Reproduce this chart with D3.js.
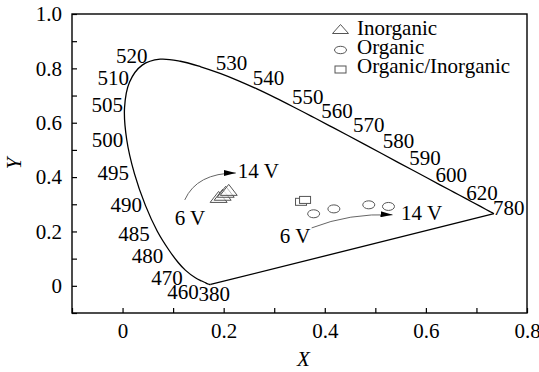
<!DOCTYPE html>
<html>
<head>
<meta charset="utf-8">
<script src="https://cdn.jsdelivr.net/npm/d3@7/dist/d3.min.js"></script>
<style>
  html, body { margin: 0; padding: 0; background: #fff; }
  svg { display: block; font-family: "Liberation Serif", "Times New Roman", serif; }
  svg text { font-family: "Liberation Serif", "Times New Roman", serif; }
</style>
</head>
<body>
<svg id="chart" width="539" height="372"></svg>
<script>
// CIE 1931 spectral locus (wavelength nm, x, y)
const locusWavelengths = [380,390,400,410,420,430,440,450,460,470,475,480,485,490,495,500,505,510,515,520,525,530,535,540,545,550,555,560,565,570,575,580,585,590,595,600,605,610,620,630,640,650,660,680,780];
const locusX = [0.1741,0.1738,0.1733,0.1726,0.1714,0.1689,0.1644,0.1566,0.1440,0.1241,0.1096,0.0913,0.0687,0.0454,0.0235,0.0082,0.0039,0.0139,0.0389,0.0743,0.1142,0.1547,0.1929,0.2296,0.2658,0.3016,0.3373,0.3731,0.4087,0.4441,0.4788,0.5125,0.5448,0.5752,0.6029,0.6270,0.6482,0.6658,0.6915,0.7079,0.7190,0.7260,0.7300,0.7334,0.7347];
const locusY = [0.0050,0.0049,0.0048,0.0048,0.0051,0.0069,0.0109,0.0177,0.0297,0.0578,0.0868,0.1327,0.2007,0.2950,0.4127,0.5384,0.6548,0.7502,0.8120,0.8338,0.8262,0.8059,0.7816,0.7543,0.7243,0.6923,0.6589,0.6245,0.5896,0.5547,0.5202,0.4866,0.4544,0.4242,0.3965,0.3725,0.3514,0.3340,0.3083,0.2920,0.2809,0.2740,0.2700,0.2666,0.2653];

// Labelled wavelengths
const labelWavelengths = [520,510,505,500,495,490,485,480,470,460,380,530,540,550,560,570,580,590,600,620,780];
// label offsets from locus point (px): [dx, dy] (text start, baseline)
const labelOffsets = [[-44,4],[-32,3],[-33,4],[-35,8],[-37,6],[-35,6],[-39,10],[-37,13],[-34,15],[-28,21],[-12,17],[15,3],[14,4],[17,6],[10,2],[6,-3],[1,-6],[-4,-6],[-4,-3],[-6,-2],[-1,1]];

// Data series
const inorganicX = [0.190, 0.198, 0.204, 0.210];
const inorganicY = [0.327, 0.335, 0.346, 0.353];
const organicX = [0.378, 0.418, 0.487, 0.526];
const organicY = [0.265, 0.283, 0.298, 0.292];
const hybridX = [0.353, 0.361];
const hybridY = [0.309, 0.316];

// Axis ticks
const xTickValues = [-0.1,0,0.1,0.2,0.3,0.4,0.5,0.6,0.7,0.8];
const xTickLabels = [0,0.2,0.4,0.6,0.8];
const yTickValues = [-0.1,0,0.1,0.2,0.3,0.4,0.5,0.6,0.7,0.8,0.9,1.0];
const yTickLabels = [0,0.2,0.4,0.6,0.8,1.0];

// Legend
const legendNames = ["Inorganic","Organic","Organic/Inorganic"];

// Voltage arrows (data coordinates): start, control, end
const arrowStarts = [[0.123,0.316],[0.374,0.213]];
const arrowControls = [[0.147,0.415],[0.449,0.268]];
const arrowEnds = [[0.224,0.415],[0.534,0.261]];
const voltageTexts = ["6 V","14 V","6 V","14 V"];
const voltageX = [0.103,0.228,0.311,0.551];
const voltageY = [0.224,0.397,0.158,0.243];

const W = 539, H = 372;
const margin = {left: 72, right: 12, top: 14, bottom: 59};
const svg = d3.select("#chart");

const x = d3.scaleLinear().domain([-0.1, 0.8]).range([margin.left, W - margin.right]);
const y = d3.scaleLinear().domain([-0.1, 1.0]).range([H - margin.bottom, margin.top]);

const fontSize = 21;
const FF = "Liberation Serif, Times New Roman, serif";

// Axes
const fmt = d => (d === 0 ? "0" : d3.format(".1f")(d));
const xAxis = d3.axisBottom(x).tickValues(xTickValues).tickSizeInner(-5).tickSizeOuter(0).tickPadding(10)
  .tickFormat(d => xTickLabels.some(v => Math.abs(v - d) < 1e-9) ? fmt(d) : "");
const yAxis = d3.axisLeft(y).tickValues(yTickValues).tickSizeInner(-5).tickSizeOuter(0).tickPadding(10)
  .tickFormat(d => yTickLabels.some(v => Math.abs(v - d) < 1e-9) ? fmt(d) : "");

const gx = svg.append("g").attr("transform", `translate(0,${H - margin.bottom})`).call(xAxis);
const gy = svg.append("g").attr("transform", `translate(${margin.left},0)`).call(yAxis);
[gx, gy].forEach(g => {
  g.attr("font-family", FF).attr("font-size", fontSize);
  g.select(".domain").remove();
  g.selectAll("line").attr("stroke", "#000").attr("stroke-width", 1.2);
  g.selectAll("text").attr("font-size", fontSize).attr("font-family", FF).attr("fill", "#000");
});
gx.selectAll("text").attr("dy", "0.71em");

// frame
svg.append("rect")
  .attr("x", x(-0.1)).attr("y", y(1.0))
  .attr("width", x(0.8) - x(-0.1)).attr("height", y(-0.1) - y(1.0))
  .attr("fill", "none").attr("stroke", "#000").attr("stroke-width", 1.4);

// Axis titles
svg.append("text").attr("x", (x(-0.1) + x(0.8)) / 2 + 4).attr("y", 366)
  .attr("text-anchor", "middle").attr("font-size", fontSize).attr("font-family", FF).attr("font-style", "italic").text("X");
svg.append("text").attr("transform", `translate(21,${(y(-0.1)+y(1.0))/2}) rotate(-90)`)
  .attr("text-anchor", "middle").attr("font-size", fontSize).attr("font-family", FF).attr("font-style", "italic").text("Y");

// Spectral locus (smooth) + purple line
const locus = locusWavelengths.map((w, i) => [locusX[i], locusY[i]]);
const line = d3.line().x(d => x(d[0])).y(d => y(d[1])).curve(d3.curveCatmullRom.alpha(0.5));
svg.append("path").attr("d", line(locus)).attr("fill", "none").attr("stroke", "#000").attr("stroke-width", 1.3);
const purple = [locus[locus.length - 1], locus[0]];
svg.append("path").attr("d", d3.line().x(d => x(d[0])).y(d => y(d[1]))(purple))
  .attr("fill", "none").attr("stroke", "#000").attr("stroke-width", 1.3);

// Wavelength labels
labelWavelengths.forEach((w, i) => {
  const k = locusWavelengths.indexOf(w);
  svg.append("text")
    .attr("x", x(locusX[k]) + labelOffsets[i][0])
    .attr("y", y(locusY[k]) + labelOffsets[i][1])
    .attr("font-size", fontSize).attr("font-family", FF).text(w);
});

// Arrow marker
svg.append("defs").append("marker")
  .attr("id", "ah").attr("viewBox", "0 0 12 6").attr("refX", 12).attr("refY", 3)
  .attr("markerWidth", 12).attr("markerHeight", 6).attr("markerUnits", "userSpaceOnUse")
  .attr("orient", "auto")
  .append("path").attr("d", "M0,0 L12,3 L0,6 Z").attr("fill", "#000");

arrowStarts.forEach((s, i) => {
  const c = arrowControls[i], e = arrowEnds[i];
  const p = d3.path();
  p.moveTo(x(s[0]), y(s[1]));
  p.quadraticCurveTo(x(c[0]), y(c[1]), x(e[0]), y(e[1]));
  svg.append("path").attr("d", p.toString()).attr("fill", "none")
    .attr("stroke", "#666").attr("stroke-width", 1).attr("marker-end", "url(#ah)");
});

voltageTexts.forEach((t, i) => {
  svg.append("text").attr("x", x(voltageX[i])).attr("y", y(voltageY[i]))
    .attr("font-size", fontSize).attr("font-family", FF).text(t);
});

// Symbols
const triPath = (cx, cy, w, h) => `M${cx},${cy - h/2} L${cx + w/2},${cy + h/2} L${cx - w/2},${cy + h/2} Z`;
const markStroke = "#555";

inorganicX.forEach((v, i) => {
  svg.append("path").attr("d", triPath(x(v), y(inorganicY[i]), 17, 11))
    .attr("fill", "#fff").attr("fill-opacity", 0.6).attr("stroke", markStroke).attr("stroke-width", 1);
});
hybridX.forEach((v, i) => {
  svg.append("rect").attr("x", x(v) - 5.5).attr("y", y(hybridY[i]) - 3.5).attr("width", 11).attr("height", 7)
    .attr("fill", "#fff").attr("stroke", markStroke).attr("stroke-width", 1);
});
organicX.forEach((v, i) => {
  svg.append("ellipse").attr("cx", x(v)).attr("cy", y(organicY[i])).attr("rx", 6).attr("ry", 4)
    .attr("fill", "none").attr("stroke", markStroke).attr("stroke-width", 1);
});

// Legend
const legX = 340.5, legTextX = 357;
const legBase = [35, 54, 73];
legendNames.forEach((n, i) => {
  svg.append("text").attr("x", legTextX).attr("y", legBase[i]).attr("font-size", fontSize).attr("font-family", FF).text(n);
});
svg.append("path").attr("d", triPath(legX, legBase[0] - 6, 16, 9)).attr("fill", "none").attr("stroke", markStroke).attr("stroke-width", 1);
svg.append("ellipse").attr("cx", legX).attr("cy", legBase[1] - 4).attr("rx", 6).attr("ry", 3.7).attr("fill", "none").attr("stroke", markStroke).attr("stroke-width", 1);
svg.append("rect").attr("x", legX - 5.5).attr("y", legBase[2] - 7).attr("width", 11).attr("height", 7).attr("fill", "none").attr("stroke", markStroke).attr("stroke-width", 1);
</script>
</body>
</html>
